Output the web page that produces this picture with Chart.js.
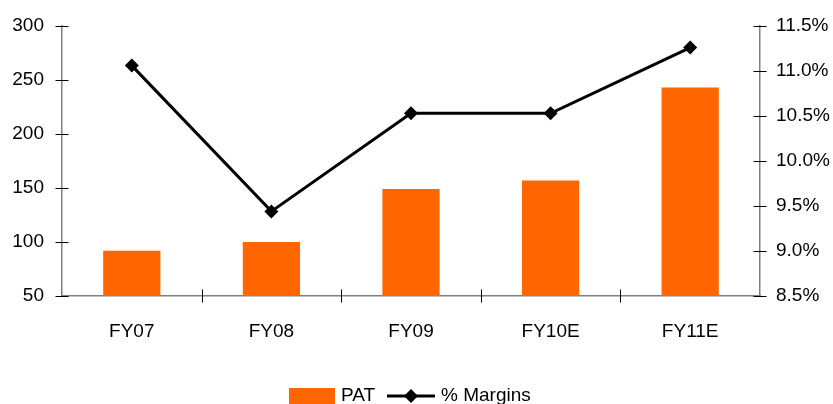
<!DOCTYPE html>
<html>
<head>
<meta charset="utf-8">
<script src="https://cdn.jsdelivr.net/npm/chart.js@4/dist/chart.umd.min.js"></script>
<style>
  html, body { margin: 0; padding: 0; background: #fff; }
  #wrap { width: 833px; height: 404px; }
</style>
</head>
<body>
<div id="wrap"><canvas id="c" width="833" height="404"></canvas></div>
<script>
// Profit after tax (Rs mn) and margin (%) by fiscal year
const categories = ['FY07', 'FY08', 'FY09', 'FY10E', 'FY11E'];
const patValues = [92, 100, 149, 157, 243];
const marginValues = [11.06, 9.44, 10.53, 10.53, 11.26];
const leftTicks = [50, 100, 150, 200, 250, 300];
const rightTicks = [8.5, 9.0, 9.5, 10.0, 10.5, 11.0, 11.5];

const ORANGE = '#FF6600';
const FONT = "'Liberation Sans', Arial, sans-serif";
const FONT_SIZE = 19;

// Axis tick marks that cross the axis line on both sides
const crossTicks = {
  id: 'crossTicks',
  afterDatasetsDraw(chart) {
    const ctx = chart.ctx;
    const { left, right, bottom } = chart.chartArea;
    const half = 6.5;
    ctx.save();
    ctx.strokeStyle = '#000';
    ctx.lineWidth = 1;
    const y1 = chart.scales.y1, y2 = chart.scales.y2, x = chart.scales.x;
    y1.ticks.forEach((t, i) => {
      const py = Math.round(y1.getPixelForTick(i)) + 0.5;
      ctx.beginPath(); ctx.moveTo(left - half, py); ctx.lineTo(left + half, py); ctx.stroke();
    });
    y2.ticks.forEach((t, i) => {
      const py = Math.round(y2.getPixelForTick(i)) + 0.5;
      ctx.beginPath(); ctx.moveTo(right - half, py); ctx.lineTo(right + half, py); ctx.stroke();
    });
    const n = categories.length;
    for (let i = 1; i < n; i++) {
      const px = Math.round((x.getPixelForValue(i - 1) + x.getPixelForValue(i)) / 2) + 0.5;
      ctx.beginPath(); ctx.moveTo(px, bottom - half); ctx.lineTo(px, bottom + half); ctx.stroke();
    }
    ctx.restore();
  }
};

// Legend row: filled box for the bars, line with diamond for the margin series
const bottomLegend = {
  id: 'bottomLegend',
  afterDraw(chart) {
    const ctx = chart.ctx;
    const ds = chart.data.datasets;
    const bars = ds.find(d => d.type === 'bar');
    const line = ds.find(d => d.type === 'line');
    const cy = 396;
    ctx.save();
    ctx.font = FONT_SIZE + 'px ' + FONT;
    ctx.textBaseline = 'middle';
    ctx.fillStyle = bars.backgroundColor;
    ctx.fillRect(289, 388, 46, 17);
    ctx.fillStyle = '#000';
    ctx.fillText(bars.label, 341, cy);
    ctx.strokeStyle = line.borderColor;
    ctx.lineWidth = 3;
    ctx.beginPath(); ctx.moveTo(387, cy); ctx.lineTo(435, cy); ctx.stroke();
    ctx.beginPath();
    ctx.moveTo(411, cy - 7); ctx.lineTo(418, cy); ctx.lineTo(411, cy + 7); ctx.lineTo(404, cy);
    ctx.closePath();
    ctx.fillStyle = line.pointBackgroundColor;
    ctx.fill();
    ctx.fillStyle = '#000';
    ctx.fillText(line.label, 441, cy);
    ctx.restore();
  }
};

function fixVertical(width) {
  return function (s) {
    s.width = width;
    s.paddingTop = 0;
    s.paddingBottom = 0;
  };
}

new Chart(document.getElementById('c'), {
  data: {
    labels: categories,
    datasets: [
      {
        type: 'line',
        label: '% Margins',
        data: marginValues,
        yAxisID: 'y2',
        borderColor: '#000',
        backgroundColor: '#000',
        borderWidth: 3,
        pointStyle: 'rectRot',
        pointRadius: 7,
        pointHoverRadius: 7,
        pointBackgroundColor: '#000',
        pointBorderWidth: 0,
        tension: 0,
        order: 0
      },
      {
        type: 'bar',
        label: 'PAT',
        data: patValues,
        yAxisID: 'y1',
        backgroundColor: ORANGE,
        borderWidth: 0,
        barPercentage: 0.41,
        categoryPercentage: 1.0,
        order: 1
      }
    ]
  },
  options: {
    responsive: false,
    animation: false,
    events: [],
    layout: { padding: { top: 26, left: 0, right: 0, bottom: 0 } },
    plugins: { legend: { display: false }, tooltip: { enabled: false } },
    scales: {
      x: {
        offset: true,
        grid: { display: false, drawTicks: false },
        border: { display: true, color: '#7f7f7f', width: 1.5 },
        ticks: { color: '#000', font: { family: FONT, size: FONT_SIZE }, padding: 24, maxRotation: 0 },
        afterFit(s) { s.height = 108; s.paddingLeft = 0; s.paddingRight = 0; }
      },
      y1: {
        position: 'left',
        min: 50, max: 300,
        afterBuildTicks(s) { s.ticks = leftTicks.map(v => ({ value: v })); },
        grid: { display: false, drawTicks: false },
        border: { display: true, color: '#7f7f7f', width: 1.5 },
        ticks: { color: '#000', font: { family: FONT, size: FONT_SIZE }, padding: 18 },
        afterFit: fixVertical(62)
      },
      y2: {
        position: 'right',
        min: 8.5, max: 11.5,
        afterBuildTicks(s) { s.ticks = rightTicks.map(v => ({ value: v })); },
        grid: { display: false, drawTicks: false },
        border: { display: true, color: '#7f7f7f', width: 1.5 },
        ticks: {
          color: '#000', font: { family: FONT, size: FONT_SIZE }, padding: 16,
          callback: v => v.toFixed(1) + '%'
        },
        afterFit: fixVertical(73)
      }
    }
  },
  plugins: [crossTicks, bottomLegend]
});
</script>
</body>
</html>
